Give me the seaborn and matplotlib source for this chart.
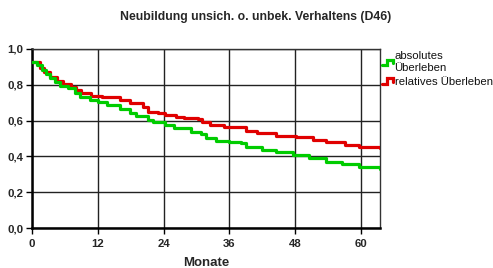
import matplotlib
matplotlib.use("Agg")
import matplotlib.pyplot as plt
import seaborn as sns
import pandas as pd
from matplotlib.lines import Line2D
from matplotlib.legend_handler import HandlerLine2D

# ========================
# Data
# ========================
months_abs = [0, 1, 1.8, 2.5, 3.3, 4.2, 5.1, 6.6, 7.8, 8.7, 10.5, 12, 13.6, 16,
              17.8, 19, 21.1, 22, 24.2, 26, 29, 30.8, 31.8, 33.5, 36, 38.1, 39,
              42, 44.5, 47.6, 50.5, 53.6, 56.6, 59.6, 63.5]
surv_abs = [0.926, 0.91, 0.883, 0.86, 0.836, 0.817, 0.795, 0.78, 0.752, 0.733,
            0.715, 0.702, 0.687, 0.665, 0.64, 0.626, 0.603, 0.59, 0.575, 0.557,
            0.538, 0.525, 0.501, 0.488, 0.48, 0.473, 0.454, 0.436, 0.423, 0.408,
            0.389, 0.37, 0.357, 0.339, 0.33]

months_rel = [0, 1.4, 2.2, 3.3, 4.5, 5.7, 7.2, 8.1, 9, 10.8, 12.7, 16, 17.8,
              20.2, 21.2, 23, 24.2, 26.3, 27.8, 30.2, 31.1, 32.4, 35.1, 39,
              41.1, 44.5, 48.1, 51.2, 53.6, 57.2, 59.6, 63.5]
surv_rel = [0.926, 0.895, 0.873, 0.845, 0.821, 0.803, 0.79, 0.771, 0.752,
            0.739, 0.73, 0.715, 0.697, 0.675, 0.65, 0.64, 0.631, 0.622, 0.613,
            0.607, 0.59, 0.575, 0.566, 0.544, 0.533, 0.516, 0.507, 0.492,
            0.479, 0.464, 0.451, 0.449]

labels = ["absolutes\nÜberleben", "relatives Überleben"]
colors = ["#00cc00", "#e00000"]
x_ticks = [0, 12, 24, 36, 48, 60]
y_ticks = [0.0, 0.2, 0.4, 0.6, 0.8, 1.0]
y_ticklabels = ["0,0", "0,2", "0,4", "0,6", "0,8", "1,0"]
title = "Neubildung unsich. o. unbek. Verhaltens (D46)"


# small step-shaped legend icon
class StepHandler(HandlerLine2D):
    def create_artists(self, legend, orig_handle, xdescent, ydescent,
                       width, height, fontsize, trans):
        x0, x1 = -xdescent, -xdescent + width
        xm = x0 + width * 0.45
        ylo, yhi = -ydescent + height * 0.15, -ydescent + height * 0.8
        line = Line2D([x0, xm, xm, x1, x1], [ylo, ylo, yhi, yhi, ylo + height * 0.25],
                      color=orig_handle.get_color(), lw=orig_handle.get_linewidth(),
                      solid_joinstyle="miter")
        line.set_transform(trans)
        return [line]


# ========================
# Plot
# ========================
sns.set_style("white")
plt.rcParams["font.family"] = ["Liberation Sans", "DejaVu Sans"]

fig = plt.figure(figsize=(4.93, 2.68), dpi=100)
ax = fig.add_axes([32 / 493, 1 - 228 / 268, 348 / 493, 179 / 268])

df_abs = pd.DataFrame({"Monate": months_abs, "surv": surv_abs})
df_rel = pd.DataFrame({"Monate": months_rel, "surv": surv_rel})

sns.lineplot(data=df_rel, x="Monate", y="surv", drawstyle="steps-post",
             color=colors[1], lw=2.3, ax=ax, label=labels[1], zorder=3)
sns.lineplot(data=df_abs, x="Monate", y="surv", drawstyle="steps-post",
             color=colors[0], lw=2.3, ax=ax, label=labels[0], zorder=4)

ax.set_xlim(0, 63.5)
ax.set_ylim(0, 1.0)
ax.set_xticks(x_ticks)
ax.set_xticklabels([str(t) for t in x_ticks], fontweight="bold", fontsize=8.2)
ax.set_yticks(y_ticks)
ax.set_yticklabels(y_ticklabels, fontweight="bold", fontsize=8.2)
ax.tick_params(axis="x", direction="out", length=4, width=1, color="black",
               pad=4, bottom=True)
ax.tick_params(axis="y", direction="out", length=4, width=1, color="black",
               pad=2, left=True)
ax.grid(True, color="#222222", lw=1)
ax.set_axisbelow(True)

for side in ["left", "bottom"]:
    ax.spines[side].set_color("black")
    ax.spines[side].set_linewidth(1.8)
for side in ["top", "right"]:
    ax.spines[side].set_color("#333333")
    ax.spines[side].set_linewidth(1.0)

ax.set_xlabel("Monate", fontweight="bold", fontsize=9.5, labelpad=6)
ax.set_ylabel("")
fig.text(256 / 493, 1 - 17 / 268, title, ha="center", va="center",
         fontweight="bold", fontsize=8.8)

handles, lbls = ax.get_legend_handles_labels()
ax.get_legend().remove()
order = [lbls.index(l) for l in labels]
leg = fig.legend([handles[i] for i in order], [lbls[i] for i in order],
                 loc="upper left", bbox_to_anchor=(382 / 493, 1 - 51 / 268),
                 frameon=False, fontsize=8.2, handlelength=1.0,
                 handletextpad=0.1, borderaxespad=0, labelspacing=0.3,
                 borderpad=0, handler_map={Line2D: StepHandler()})
for t in leg.get_texts():
    t.set_linespacing(1.3)
    t.set_color("#111111")

plt.savefig("out.png", dpi=100)
